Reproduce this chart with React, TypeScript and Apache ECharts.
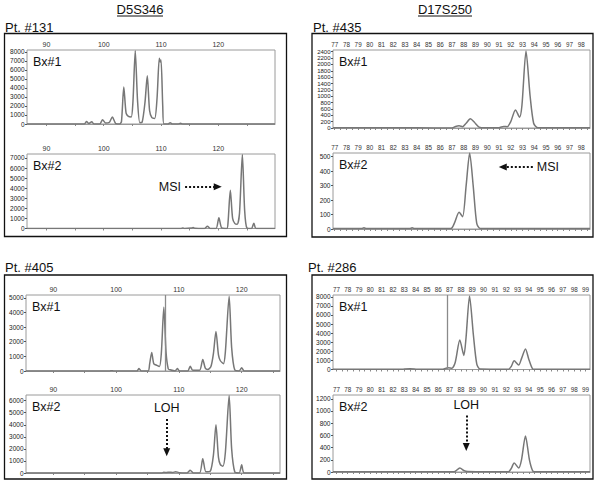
import React, { useEffect, useRef } from "react";
import * as echarts from "echarts";

const FONT = "'Liberation Sans', Arial, Helvetica, sans-serif";

// ---- Tick labels ----
const xLabelsD5 = [90, 100, 110, 120];
const xLabelsTR = [77, 78, 79, 80, 81, 82, 83, 84, 85, 86, 87, 88, 89, 90, 91, 92, 93, 94, 95, 96, 97, 98];
const xLabelsBR = [77, 78, 79, 80, 81, 82, 83, 84, 85, 86, 87, 88, 89, 90, 91, 92, 93, 94, 95, 96, 97, 98, 99];
const yLabelsTL1 = [0, 1000, 2000, 3000, 4000, 5000, 6000, 7000, 8000];
const yLabelsTL2 = [0, 1000, 2000, 3000, 4000, 5000, 6000, 7000];
const yLabelsTR1 = [0, 200, 400, 600, 800, 1000, 1200, 1400, 1600, 1800, 2000, 2200, 2400];
const yLabelsTR2 = [0, 100, 200, 300, 400, 500];
const yLabelsBL1 = [0, 1000, 2000, 3000, 4000, 5000];
const yLabelsBL2 = [0, 1000, 2000, 3000, 4000, 5000, 6000];
const yLabelsBR1 = [0, 1000, 2000, 3000, 4000, 5000, 6000, 7000, 8000];
const yLabelsBR2 = [0, 200, 400, 600, 800, 1000, 1200];

// ---- Traces (size, intensity) ----
const tl1Trace: [number, number][] = [
  [86.6, 0], [96.6, 0], [97.0, 280], [97.4, 60], [97.9, 250], [98.3, 0], [99.3, 0], [99.8, 480], [100.3, 120],
  [101.0, 200], [101.5, 780], [102.1, 50], [102.8, 0], [103.1, 300], [103.5, 4100], [103.9, 1200], [104.3, 850],
  [104.8, 780], [105.1, 2500], [105.5, 8150], [105.9, 2600], [106.3, 150], [106.7, 200], [107.2, 2400], [107.6, 5350],
  [108.0, 1500], [108.4, 700], [108.9, 620], [109.3, 2800], [109.7, 7300], [109.85, 6900], [110.0, 7100], [110.3, 2000],
  [110.5, 0], [111.2, 0], [111.6, 150], [112.0, 0], [113.0, 0], [113.4, 80], [113.8, 0], [129.9, 0],
];
const tl2Trace: [number, number][] = [
  [86.6, 0], [113.5, 0], [113.8, 60], [114.1, 0], [115.3, 40], [115.6, 90], [115.9, 20], [117.6, 0], [118.1, 230],
  [118.6, 0], [119.6, 0], [120.1, 1070], [120.6, 60], [121.5, 0], [121.7, 600], [122.1, 3800], [122.5, 1000],
  [122.9, 480], [123.3, 420], [123.7, 1500], [124.2, 7350], [124.6, 1800], [125.0, 50], [125.8, 0], [126.2, 530],
  [126.6, 0], [129.9, 0],
];
const tr1Trace: [number, number][] = [
  [76.86, 10], [80, 10], [84, 5], [87.0, 0], [87.3, 50], [87.6, 70], [87.9, 40], [88.2, 150], [88.56, 290], [88.9, 180],
  [89.3, 30], [89.8, 5], [91.0, 10], [91.4, 50], [91.7, 40], [92.0, 200], [92.4, 570], [92.75, 340], [92.95, 700],
  [93.3, 2420], [93.65, 1000], [93.95, 150], [94.3, 10], [98.75, 10],
];
const tr2Trace: [number, number][] = [
  [76.86, 3], [79.3, 3], [79.5, 8], [79.7, 3], [83.4, 3], [83.6, 8], [83.8, 3], [86.9, 3], [87.2, 40], [87.6, 115],
  [87.9, 85], [88.2, 300], [88.5, 525], [88.8, 300], [89.1, 40], [89.4, 3], [98.75, 3],
];
const bl1Trace: [number, number][] = [
  [85.65, 0], [99.0, 0], [99.3, 25], [99.6, 0], [103.3, 0], [103.65, 175], [104.0, 0], [105.1, 0], [105.35, 500],
  [105.67, 1270], [106.0, 500], [106.5, 380], [106.9, 300], [107.2, 1200], [107.6, 4350], [107.95, 1300], [108.3, 150],
  [108.6, 80], [109.4, 0], [109.75, 175], [110.1, 0], [111.4, 0], [111.8, 330], [112.2, 50], [113.3, 50], [113.8, 790],
  [114.2, 200], [114.6, 110], [115.1, 300], [115.5, 1200], [115.9, 2700], [116.3, 1100], [116.6, 700], [117.1, 500],
  [117.4, 1300], [118.0, 5100], [118.4, 1600], [118.9, 60], [119.6, 0], [120.0, 220], [120.4, 0], [126.1, 0],
];
const bl2Trace: [number, number][] = [
  [85.65, 0], [107.3, 0], [107.6, 60], [108.0, 40], [108.5, 70], [109.0, 40], [109.5, 110], [110.0, 30], [111.3, 0],
  [111.8, 220], [112.3, 0], [113.3, 0], [113.8, 1190], [114.3, 100], [115.0, 150], [115.5, 1500], [115.9, 4010],
  [116.3, 1300], [116.6, 700], [117.0, 550], [117.4, 1700], [118.0, 6420], [118.4, 2000], [118.9, 80], [119.6, 0],
  [120.0, 690], [120.4, 0], [126.1, 0],
];
const br1Trace: [number, number][] = [
  [76.7, 20], [82.8, 20], [83.0, 60], [83.5, 70], [83.9, 50], [84.2, 20], [86.4, 20], [86.85, 200], [87.2, 150],
  [87.5, 800], [87.9, 3240], [88.26, 1550], [88.45, 3500], [88.76, 8100], [89.1, 3800], [89.4, 600], [89.7, 50],
  [92.2, 20], [92.45, 350], [92.7, 950], [93.1, 490], [93.35, 1200], [93.7, 2260], [94.0, 1100], [94.35, 50],
  [94.6, 20], [99.4, 20],
];
const br2Trace: [number, number][] = [
  [76.7, 5], [87.4, 5], [87.9, 66], [88.3, 20], [88.6, 10], [92.2, 5], [92.45, 60], [92.7, 148], [93.1, 66],
  [93.35, 200], [93.7, 592], [94.05, 200], [94.35, 15], [94.6, 5], [99.4, 5],
];

// ---- Annotations ----
const msiTL: [number, number][] = [[114.2, 4140], [119.9, 4140]];
const msiTR: [number, number][] = [[93.88, 429], [91.32, 429]];
const lohBL: [number, number][] = [[108.06, 4480], [108.06, 1730]];
const lohBR: [number, number][] = [[88.47, 928], [88.47, 409]];
const refLineBL1 = 107.75;
const refLineBR1 = 86.76;

const halfTicks = (labels: number[]) => {
  const out: number[] = [];
  labels.forEach((v) => {
    out.push(v);
    out.push(v + 0.5);
  });
  return out;
};
const fiveTicks = (labels: number[]) => {
  const out: number[] = [];
  labels.forEach((v) => {
    out.push(v);
    out.push(v + 5);
  });
  return out;
};

const arrowML = (pts: [number, number][], text: string) => ({
  silent: true,
  symbol: ["none", "triangle"],
  symbolSize: [7, 8],
  lineStyle: { type: "dotted", width: 2, color: "#111" },
  label: { show: true, position: "start", formatter: text, fontSize: 12.5, color: "#111", fontFamily: FONT, distance: 4 },
  emphasis: { disabled: true },
  data: [[{ coord: pts[0] }, { coord: pts[1] }]],
});
const vlineML = (v: number) => ({
  silent: true,
  symbol: ["none", "none"],
  lineStyle: { type: "solid", width: 1.3, color: "#8a8a8a" },
  label: { show: false },
  emphasis: { disabled: true },
  data: [{ xAxis: v }],
});

type Panel = {
  grid: { left: number; top: number; width: number; height: number };
  xMin: number; xMax: number; yMax: number;
  xLabels: number[]; xTicks: number[]; yLabels: number[];
  data: [number, number][]; tag: string; xFont: number; yFont: number; markLine?: any;
};

const panels: Panel[] = [
  { grid: { left: 27, top: 50, width: 248, height: 74 }, xMin: 86.6, xMax: 129.9, yMax: 8220, xLabels: xLabelsD5, xTicks: fiveTicks(xLabelsD5), yLabels: yLabelsTL1, data: tl1Trace, tag: "Bx#1", xFont: 7, yFont: 6.5 },
  { grid: { left: 27, top: 154, width: 248, height: 74.5 }, xMin: 86.6, xMax: 129.9, yMax: 7390, xLabels: xLabelsD5, xTicks: fiveTicks(xLabelsD5), yLabels: yLabelsTL2, data: tl2Trace, tag: "Bx#2", xFont: 7, yFont: 6.5, markLine: arrowML(msiTL, "MSI") },
  { grid: { left: 333, top: 50, width: 257, height: 78 }, xMin: 76.86, xMax: 98.75, yMax: 2455, xLabels: xLabelsTR, xTicks: halfTicks(xLabelsTR), yLabels: yLabelsTR1, data: tr1Trace, tag: "Bx#1", xFont: 6.3, yFont: 6 },
  { grid: { left: 333, top: 153, width: 257, height: 76 }, xMin: 76.86, xMax: 98.75, yMax: 525, xLabels: xLabelsTR, xTicks: halfTicks(xLabelsTR), yLabels: yLabelsTR2, data: tr2Trace, tag: "Bx#2", xFont: 6.3, yFont: 6.5, markLine: arrowML(msiTR, "MSI") },
  { grid: { left: 26, top: 295, width: 254, height: 76 }, xMin: 85.65, xMax: 126.1, yMax: 5190, xLabels: xLabelsD5, xTicks: fiveTicks(xLabelsD5), yLabels: yLabelsBL1, data: bl1Trace, tag: "Bx#1", xFont: 7, yFont: 6.5, markLine: vlineML(refLineBL1) },
  { grid: { left: 26, top: 395, width: 254, height: 78 }, xMin: 85.65, xMax: 126.1, yMax: 6470, xLabels: xLabelsD5, xTicks: fiveTicks(xLabelsD5), yLabels: yLabelsBL2, data: bl2Trace, tag: "Bx#2", xFont: 7, yFont: 6.5, markLine: arrowML(lohBL, "LOH") },
  { grid: { left: 333, top: 295, width: 257, height: 74.5 }, xMin: 76.7, xMax: 99.4, yMax: 8200, xLabels: xLabelsBR, xTicks: halfTicks(xLabelsBR), yLabels: yLabelsBR1, data: br1Trace, tag: "Bx#1", xFont: 6.3, yFont: 6.5, markLine: vlineML(refLineBR1) },
  { grid: { left: 333, top: 395, width: 257, height: 77 }, xMin: 76.7, xMax: 99.4, yMax: 1262, xLabels: xLabelsBR, xTicks: halfTicks(xLabelsBR), yLabels: yLabelsBR2, data: br2Trace, tag: "Bx#2", xFont: 6.3, yFont: 6.5, markLine: arrowML(lohBR, "LOH") },
];

const headers = [
  { text: "D5S346", x: 140, y: 9, underline: [117, 163] },
  { text: "D17S250", x: 445, y: 9, underline: [418, 472] },
];
const ptLabels = [
  { text: "Pt. #131", x: 5, y: 27 },
  { text: "Pt. #435", x: 313, y: 27 },
  { text: "Pt. #405", x: 5, y: 267 },
  { text: "Pt. #286", x: 308, y: 267 },
];
const boxes = [
  { x: 4.5, y: 33.5, w: 282, h: 203 },
  { x: 312, y: 33.5, w: 281, h: 203.5 },
  { x: 4.5, y: 275, w: 282, h: 204 },
  { x: 312, y: 275, w: 281, h: 204 },
];

export default function App() {
  const ref = useRef<HTMLDivElement>(null);
  useEffect(() => {
    if (!ref.current) return;
    const chart = echarts.init(ref.current, undefined, { renderer: "svg" });
    const graphic: any[] = [];
    boxes.forEach((b) =>
      graphic.push({ type: "rect", shape: { x: b.x, y: b.y, width: b.w, height: b.h }, style: { fill: "none", stroke: "#111", lineWidth: 1.3 }, silent: true })
    );
    headers.forEach((h) => {
      graphic.push({ type: "text", x: h.x, y: h.y, style: { text: h.text, fontSize: 13, fontFamily: FONT, fill: "#111", align: "center", verticalAlign: "middle" } });
      graphic.push({ type: "line", shape: { x1: h.underline[0], y1: 16, x2: h.underline[1], y2: 16 }, style: { stroke: "#111", lineWidth: 1 } });
    });
    ptLabels.forEach((p) =>
      graphic.push({ type: "text", x: p.x, y: p.y, style: { text: p.text, fontSize: 13, fontFamily: FONT, fill: "#111", align: "left", verticalAlign: "middle" } })
    );
    panels.forEach((p) =>
      graphic.push({ type: "text", x: p.grid.left + 6, y: p.grid.top + 12, style: { text: p.tag, fontSize: 12.5, fontFamily: FONT, fill: "#111", align: "left", verticalAlign: "middle" } })
    );

    const option: any = {
      animation: false,
      backgroundColor: "#fff",
      grid: panels.map((p) => ({ ...p.grid, show: true, borderColor: "#9a9a9a", borderWidth: 1, containLabel: false })),
      xAxis: panels.map((p, i) => ({
        gridIndex: i,
        type: "value",
        position: "top",
        min: p.xMin,
        max: p.xMax,
        axisLine: { show: true, lineStyle: { color: "#999", width: 1 } },
        axisTick: { show: true, inside: true, length: 2, customValues: p.xTicks, lineStyle: { color: "#888" } },
        axisLabel: {
          customValues: p.xLabels, fontSize: p.xFont, margin: 2.5, color: "#333", fontFamily: FONT,
          hideOverlap: false, formatter: (v: number) => String(v),
        },
        splitLine: { show: false },
      })),
      yAxis: panels.map((p, i) => ({
        gridIndex: i,
        type: "value",
        min: 0,
        max: p.yMax,
        axisLine: { show: false },
        axisTick: { show: true, length: 2, customValues: p.yLabels, lineStyle: { color: "#555" } },
        axisLabel: {
          customValues: p.yLabels, fontSize: p.yFont, margin: 2.5, color: "#222", fontFamily: FONT,
          hideOverlap: false, showMinLabel: true, showMaxLabel: true, formatter: (v: number) => String(v),
        },
        splitLine: { show: false },
      })),
      series: panels.map((p, i) => ({
        type: "line",
        xAxisIndex: i,
        yAxisIndex: i,
        data: p.data,
        showSymbol: false,
        smooth: 0.25,
        silent: true,
        lineStyle: { color: "#777", width: 1.5 },
        ...(p.markLine ? { markLine: p.markLine } : {}),
      })),
      graphic,
    };
    chart.setOption(option);
    return () => chart.dispose();
  }, []);
  return <div ref={ref} style={{ position: "fixed", left: 0, top: 0, width: 600, height: 484, background: "#fff" }} />;
}
